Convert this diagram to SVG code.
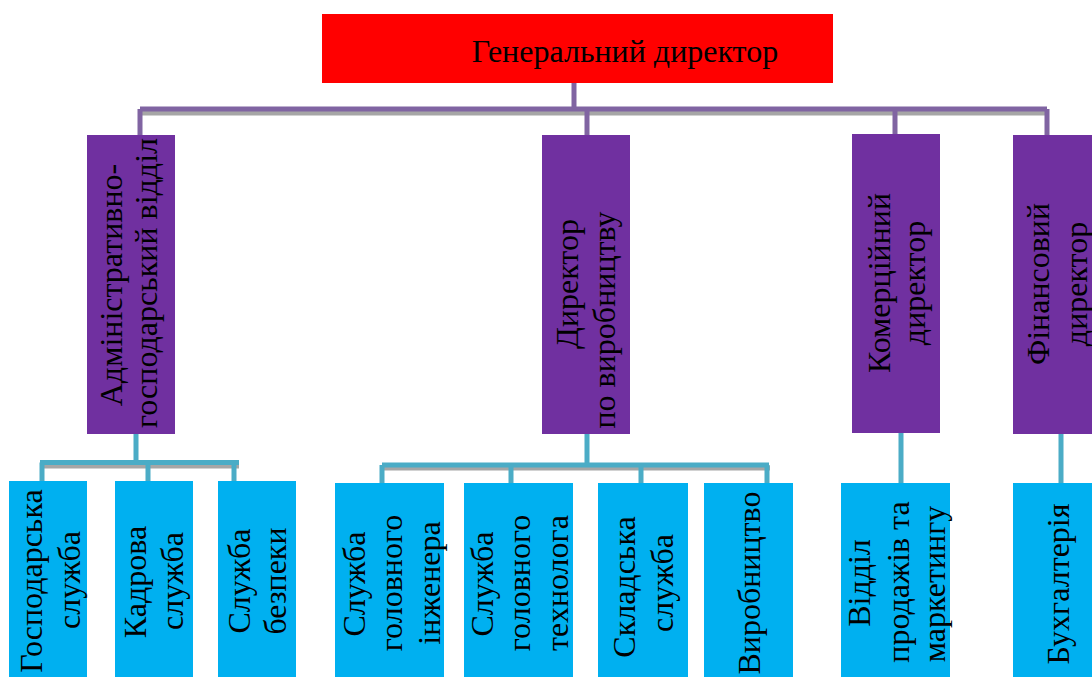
<svg xmlns="http://www.w3.org/2000/svg" width="1092" height="677" viewBox="0 0 1092 677">
<style>
text{font-family:"Liberation Serif","Times New Roman",serif;font-size:32px;fill:#000;text-anchor:middle}
.red{fill:#FF0000}
.pur{fill:#7030A0}
.cy{fill:#00B0F0}
.lp{stroke:#8064A2;stroke-width:5;fill:none}
.lb{stroke:#4BACC6;stroke-width:5;fill:none}
.sh{stroke:#A6A6A6;stroke-width:5;fill:none}
</style>
<rect width="1092" height="677" fill="#fff"/>
<g id="connectors">
  <path class="sh" d="M141 113 H1049"/>
  <path class="lp" d="M574 83 V109 M140 109 H1047 M140 109 V135 M587 109 V135 M895 109 V134 M1047 109 V135"/>
  <path class="sh" d="M40 466 H239 M382 468 H770"/>
  <path class="lb" d="M136 434 V462.5 M40 462.5 H239 M42 462.5 V481 M148 462.5 V481 M234 462.5 V481"/>
  <path class="lb" d="M587 434 V465 M382 465 H769 M382 465 V483 M511 465 V483 M641 465 V483 M767 465 V483"/>
  <path class="lb" d="M901 433 V483 M1061 434 V484"/>
</g>
<g id="gen">
  <rect class="red" x="322" y="14" width="511" height="69"/>
  <text x="625" y="62">Генеральний директор</text>
</g>
<g id="admin">
  <rect class="pur" x="87" y="135" width="88" height="299"/>
  <text transform="translate(122,285) rotate(-90)">Адміністративно-</text>
  <text transform="translate(157,283) rotate(-90)">господарський відділ</text>
</g>
<g id="prod">
  <rect class="pur" x="542" y="135" width="88" height="299"/>
  <text transform="translate(578,284) rotate(-90)">Директор</text>
  <text transform="translate(615,320) rotate(-90)">по виробництву</text>
</g>
<g id="com">
  <rect class="pur" x="852" y="134" width="88" height="299"/>
  <text transform="translate(890,283) rotate(-90)">Комерційний</text>
  <text transform="translate(925,283) rotate(-90)">директор</text>
</g>
<g id="fin">
  <rect class="pur" x="1013" y="135" width="90" height="299"/>
  <text transform="translate(1049,284) rotate(-90)">Фінансовий</text>
  <text transform="translate(1087,284) rotate(-90)">директор</text>
</g>
<g id="gosp">
  <rect class="cy" x="9" y="481" width="78" height="196"/>
  <text transform="translate(42,581) rotate(-90)">Господарська</text>
  <text transform="translate(80,580) rotate(-90)">служба</text>
</g>
<g id="kadr">
  <rect class="cy" x="115" y="481" width="78" height="196"/>
  <text transform="translate(146,582) rotate(-90)">Кадрова</text>
  <text transform="translate(183,581) rotate(-90)">служба</text>
</g>
<g id="bezp">
  <rect class="cy" x="218" y="481" width="78" height="196"/>
  <text transform="translate(250,581) rotate(-90)">Служба</text>
  <text transform="translate(286,581) rotate(-90)">безпеки</text>
</g>
<g id="inzh">
  <rect class="cy" x="335" y="483" width="109" height="194"/>
  <text transform="translate(365,584) rotate(-90)">Служба</text>
  <text transform="translate(402,583) rotate(-90)">головного</text>
  <text transform="translate(440,583) rotate(-90)">інженера</text>
</g>
<g id="tech">
  <rect class="cy" x="464" y="483" width="109" height="194"/>
  <text transform="translate(493,584) rotate(-90)">Служба</text>
  <text transform="translate(530,583) rotate(-90)">головного</text>
  <text transform="translate(568,583) rotate(-90)">технолога</text>
</g>
<g id="skl">
  <rect class="cy" x="598" y="483" width="90" height="194"/>
  <text transform="translate(635,587) rotate(-90)">Складська</text>
  <text transform="translate(673,583) rotate(-90)">служба</text>
</g>
<g id="vyr">
  <rect class="cy" x="704" y="483" width="89" height="194"/>
  <text transform="translate(760,583) rotate(-90)">Виробництво</text>
</g>
<g id="sales">
  <rect class="cy" x="841" y="483" width="109" height="194"/>
  <text transform="translate(870,583) rotate(-90)">Відділ</text>
  <text transform="translate(909,582) rotate(-90)">продажів та</text>
  <text transform="translate(945,584) rotate(-90)">маркетингу</text>
</g>
<g id="buh">
  <rect class="cy" x="1013" y="483" width="90" height="194"/>
  <text transform="translate(1069,584) rotate(-90)">Бухгалтерія</text>
</g>
</svg>
